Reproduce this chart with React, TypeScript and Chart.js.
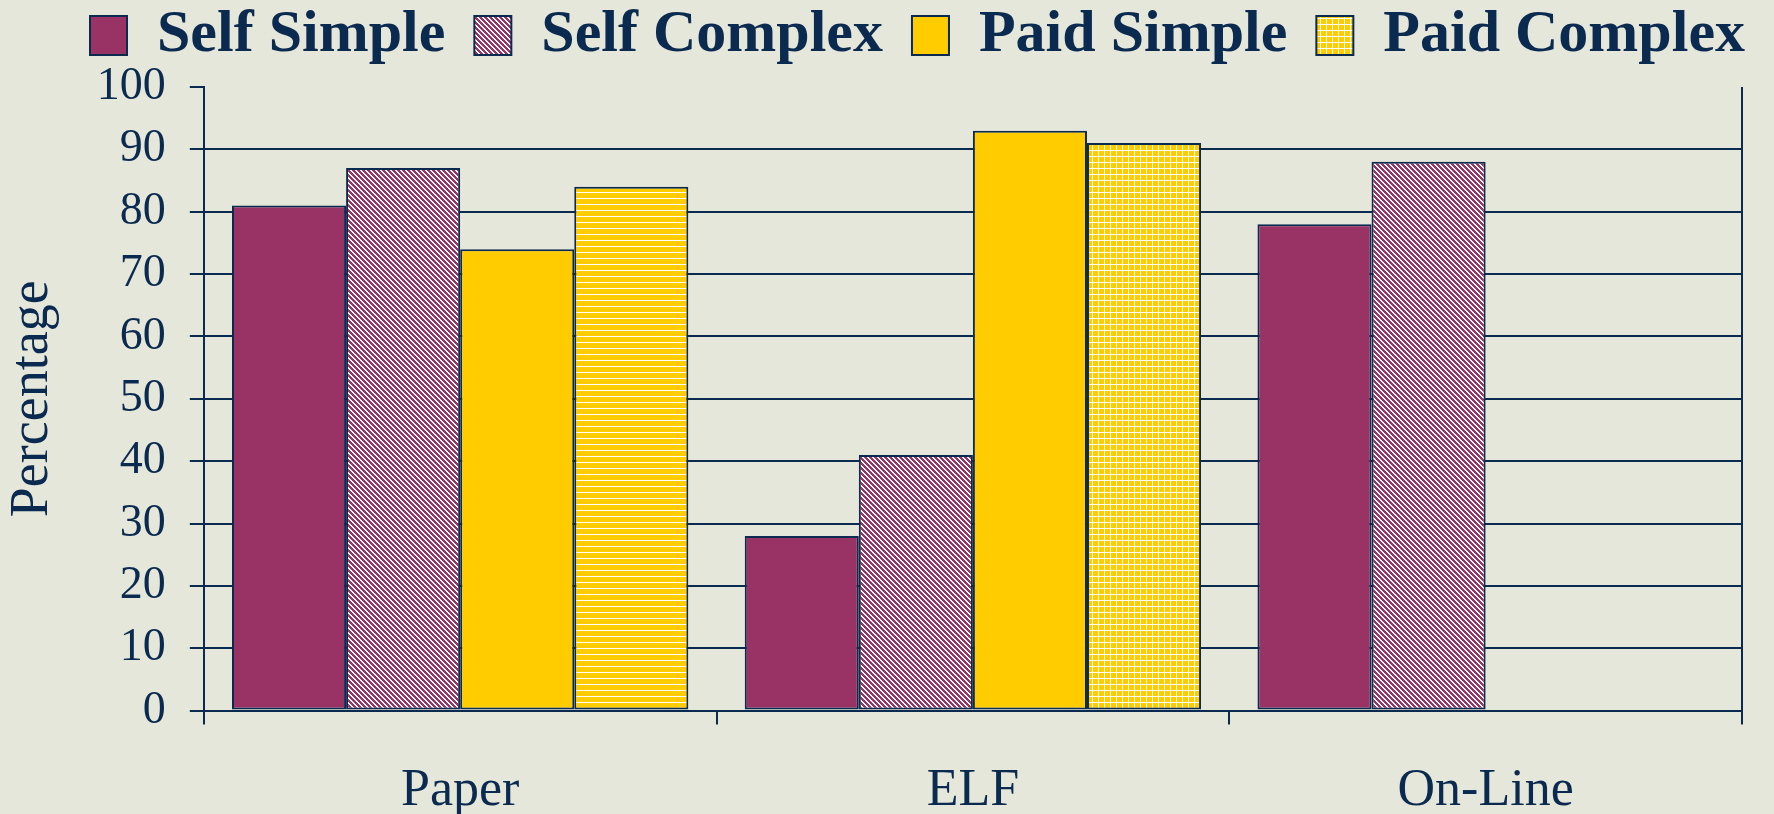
import React, { useEffect, useRef } from 'react';
import { Chart, registerables } from 'chart.js';

Chart.register(...registerables);

const categories = ['Paper', 'ELF', 'On-Line'];
const seriesLabels = ['Self Simple', 'Self Complex', 'Paid Simple', 'Paid Complex'];
const selfSimple: (number | null)[] = [81, 28, 78];
const selfComplex: (number | null)[] = [87, 41, 88];
const paidSimple: (number | null)[] = [74, 93, null];
const paidComplex: (number | null)[] = [84, 91, null];
const yMin = 0;
const yMax = 100;
const yStep = 10;

const NAVY = '#0b2a50';
const PLUM = '#993366';
const GOLD = '#ffcc00';
const BG = '#e6e7db';
const SERIF = '"Liberation Serif", "Times New Roman", serif';

function makePattern(size: number, bg: string, paint: (c: CanvasRenderingContext2D) => void) {
  const cv = document.createElement('canvas');
  cv.width = size;
  cv.height = size;
  const c = cv.getContext('2d')!;
  c.fillStyle = bg;
  c.fillRect(0, 0, size, size);
  c.fillStyle = '#ffffff';
  paint(c);
  const ctx = document.createElement('canvas').getContext('2d')!;
  return ctx.createPattern(cv, 'repeat') as CanvasPattern;
}

export default function App() {
  const ref = useRef<HTMLCanvasElement | null>(null);

  useEffect(() => {
    document.body.style.margin = '0';
    document.body.style.background = BG;
    const canvas = ref.current;
    if (!canvas) return;

    const diag = makePattern(5, PLUM, (c) => {
      for (let y = 0; y < 5; y++) {
        for (let x = 0; x < 5; x++) {
          const d = (x - y + 10) % 5;
          if (d === 0 || d === 1) c.fillRect(x, y, 1, 1);
        }
      }
    });
    const hlines = makePattern(6, GOLD, (c) => {
      c.fillRect(0, 0, 6, 1);
    });
    const grid = makePattern(6, GOLD, (c) => {
      c.fillRect(0, 0, 6, 1);
      c.fillRect(0, 0, 1, 6);
    });

    const legendFills = [PLUM, diag, GOLD, grid];

    const legendPlacer = {
      id: 'legendPlacer',
      afterLayout(chart: any) {
        const lg = chart.legend;
        if (!lg) return;
        const pad = 29;
        lg.left = 90 - pad;
        lg.right = chart.width + 600;
        lg.top = 5.5 - pad;
        lg.bottom = 87;
      },
    };

    const chart = new Chart(canvas, {
      type: 'bar',
      data: {
        labels: categories,
        datasets: [
          { label: seriesLabels[0], data: selfSimple, backgroundColor: PLUM },
          { label: seriesLabels[1], data: selfComplex, backgroundColor: diag },
          { label: seriesLabels[2], data: paidSimple, backgroundColor: GOLD },
          { label: seriesLabels[3], data: paidComplex, backgroundColor: [hlines, grid, grid] },
        ].map((d) => ({
          ...d,
          borderColor: NAVY,
          borderWidth: 2,
          borderSkipped: false,
          categoryPercentage: 0.89,
          barPercentage: 1.0,
        })) as any,
      },
      options: {
        responsive: false,
        animation: false,
        devicePixelRatio: 1,
        layout: { padding: { top: 0, right: 32, bottom: -45, left: 0 } },
        plugins: {
          tooltip: { enabled: false },
          legend: {
            position: 'top',
            align: 'start',
            maxHeight: 87,
            labels: {
              font: { family: SERIF, size: 60, weight: 'bold' },
              color: NAVY,
              boxWidth: 37,
              boxHeight: 39,
              padding: 29,
              generateLabels: (ch: any) =>
                ch.data.datasets.map((ds: any, i: number) => ({
                  text: ds.label,
                  fillStyle: legendFills[i],
                  strokeStyle: NAVY,
                  lineWidth: 2,
                  lineCap: 'butt',
                  lineJoin: 'miter',
                  lineDash: [],
                  lineDashOffset: 0,
                  hidden: false,
                  fontColor: NAVY,
                  datasetIndex: i,
                })),
            },
          },
        },
        scales: {
          x: {
            grid: {
              offset: true,
              color: (c: any) => (c.type === 'scale' ? NAVY : 'rgba(0,0,0,0)'),
              lineWidth: 2,
              tickLength: 14,
              tickColor: NAVY,
              tickWidth: 2,
            },
            border: { color: NAVY, width: 2 },
            ticks: {
              font: { family: SERIF, size: 52 },
              color: NAVY,
              padding: 36,
            },
          },
          y: {
            min: yMin,
            max: yMax,
            ticks: {
              stepSize: yStep,
              font: { family: SERIF, size: 46 },
              color: NAVY,
              padding: 24,
            },
            grid: {
              color: (c: any) => (c.tick && c.tick.value === yMax ? 'rgba(0,0,0,0)' : NAVY),
              lineWidth: 2,
              tickLength: 14,
              tickColor: NAVY,
              tickWidth: 2,
            },
            border: { color: NAVY, width: 2 },
            title: {
              display: true,
              text: 'Percentage',
              font: { family: SERIF, size: 54 },
              color: NAVY,
              padding: { top: 0, bottom: 8 },
            },
          },
        },
      } as any,
      plugins: [legendPlacer],
    });

    return () => chart.destroy();
  }, []);

  return (
    <canvas
      ref={ref}
      width={1774}
      height={814}
      style={{ display: 'block', width: '1774px', height: '814px' }}
    />
  );
}
